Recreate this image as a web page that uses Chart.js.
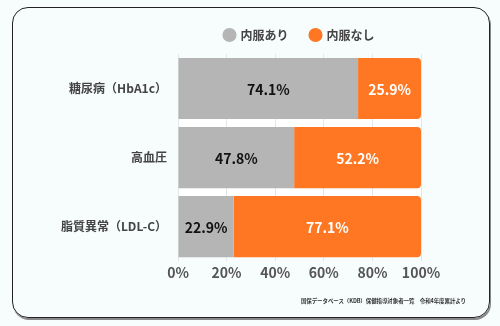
<!DOCTYPE html>
<html lang="ja">
<head>
<meta charset="utf-8">
<title>内服状況</title>
<script src="https://cdn.jsdelivr.net/npm/chart.js@4/dist/chart.umd.min.js"></script>
<style>
  html, body { margin: 0; padding: 0; background: #f7fcfd; }
  body { width: 500px; height: 326px; position: relative; overflow: hidden; font-family: "Noto Sans CJK JP", sans-serif; }
  .frame {
    position: absolute; left: 12px; top: 7px; width: 476px; height: 309px;
    border: 1.5px solid #222; border-radius: 16px;
    box-shadow: 1px 2px 0 #888;
  }
  #chart { position: absolute; left: 0; top: 0; }
  .source {
    position: absolute; right: 34px; top: 297px;
    font-size: 5.5px; font-weight: bold; color: #333; white-space: nowrap;
    letter-spacing: -0.1px;
  }
</style>
</head>
<body>
<div class="frame"></div>
<canvas id="chart" width="500" height="326"></canvas>
<div class="source">国保データベース（KDB）保健指導対象者一覧　令和4年度累計より</div>
<script>
// data
const categories = ['糖尿病（HbA1c）', '高血圧', '脂質異常（LDL-C）'];
const withMeds = [74.1, 47.8, 22.9];
const withoutMeds = [25.9, 52.2, 77.1];
const xTicks = [0, 20, 40, 60, 80, 100];

const FONT = '"Noto Sans CJK JP", sans-serif';

// white strips between the bars (behind the grid)
const gapFill = {
    id: 'gapFill',
    beforeDraw(chart) {
        const meta = chart.getDatasetMeta(0);
        const area = chart.chartArea;
        const ctx = chart.ctx;
        ctx.save();
        ctx.fillStyle = '#ffffff';
        for (let i = 0; i < meta.data.length - 1; i++) {
            const a = meta.data[i], b = meta.data[i + 1];
            const top = a.y + a.height / 2;
            const bottom = b.y - b.height / 2;
            ctx.fillRect(area.left, top, area.right - area.left, bottom - top);
        }
        ctx.restore();
    }
};

// percentage labels in the middle of each segment
const valueLabels = {
    id: 'valueLabels',
    afterDatasetsDraw(chart) {
        const ctx = chart.ctx;
        ctx.save();
        ctx.font = 'bold 14px ' + FONT;
        ctx.textAlign = 'center';
        ctx.textBaseline = 'middle';
        chart.data.datasets.forEach((ds, di) => {
            const meta = chart.getDatasetMeta(di);
            ctx.fillStyle = di === 0 ? '#111111' : '#ffffff';
            meta.data.forEach((el, i) => {
                ctx.fillText(ds.data[i].toFixed(1) + '%', (el.x + el.base) / 2, el.y + 1);
            });
        });
        ctx.restore();
    }
};

// give the legend box a bit more room so the plot starts where the reference does
const legendFit = {
    id: 'legendFit',
    beforeInit(chart) {
        const fit = chart.legend.fit;
        chart.legend.fit = function () {
            fit.call(this);
            this.height += 3;
        };
    }
};

new Chart(document.getElementById('chart'), {
    type: 'bar',
    data: {
        labels: categories,
        datasets: [{
            label: '内服あり',
            data: withMeds,
            backgroundColor: '#b5b5b5',
            borderWidth: 0,
            categoryPercentage: 1,
            barPercentage: 0.885
        }, {
            label: '内服なし',
            data: withoutMeds,
            backgroundColor: '#ff7722',
            borderWidth: 0,
            borderRadius: { topLeft: 0, bottomLeft: 0, topRight: 4, bottomRight: 4 },
            borderSkipped: false,
            categoryPercentage: 1,
            barPercentage: 0.885
        }]
    },
    options: {
        indexAxis: 'y',
        responsive: false,
        devicePixelRatio: 1,
        animation: false,
        layout: { padding: { top: 7, right: 79, bottom: 42, left: 0 } },
        plugins: {
            legend: {
                position: 'top',
                fullSize: false,
                labels: {
                    usePointStyle: true,
                    pointStyle: 'circle',
                    boxWidth: 10,
                    boxHeight: 10,
                    padding: 22,
                    color: '#444',
                    font: { family: FONT, size: 12, weight: 'bold' }
                }
            },
            tooltip: { enabled: false }
        },
        scales: {
            x: {
                stacked: true,
                min: 0,
                max: 100,
                afterBuildTicks(scale) {
                    scale.ticks = xTicks.map(v => ({ value: v }));
                },
                grid: { color: '#e3e7e9', drawTicks: false },
                border: { display: false },
                ticks: {
                    padding: 3,
                    color: '#555',
                    font: { family: FONT, size: 14, weight: 'bold' },
                    callback: v => v + '%'
                }
            },
            y: {
                stacked: true,
                afterFit(scale) { scale.width = 178; },
                grid: { display: false },
                border: { display: false },
                ticks: {
                    padding: 3,
                    color: '#444',
                    font: { family: FONT, size: 12, weight: 'bold' }
                }
            }
        }
    },
    plugins: [gapFill, valueLabels, legendFit]
});
</script>
</body>
</html>
